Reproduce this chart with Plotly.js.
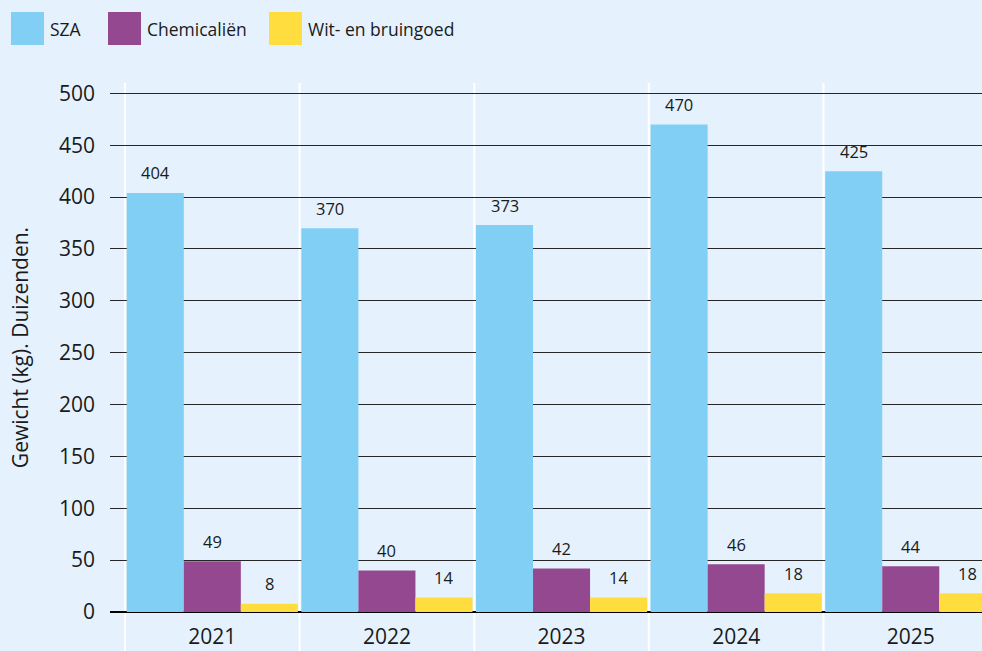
<!DOCTYPE html>
<html>
<head>
<meta charset="utf-8">
<script src="https://cdn.plot.ly/plotly-3.0.1.min.js"></script>
<style>html,body{margin:0;padding:0;background:#E5F2FD;}</style>
</head>
<body>
<div id="chart" style="width:982px;height:651px;"></div>
<script>
const years = ["2021", "2022", "2023", "2024", "2025"];
const seriesNames = ["SZA", "Chemicaliën", "Wit- en bruingoed"];
const sza = [404, 370, 373, 470, 425];
const chem = [49, 40, 42, 46, 44];
const wit = [8, 14, 14, 18, 18];
const colors = ["#81CFF4", "#944890", "#FFDD3F"];
const yTicks = [0, 50, 100, 150, 200, 250, 300, 350, 400, 450, 500];

const bg = "#E5F2FD";
const FONT = "Open Sans, sans-serif";
const bargap = 0.02;
const seriesVals = [sza, chem, wit];

const traces = seriesVals.map((vals, k) => ({
  type: "bar",
  x: years,
  y: vals,
  name: seriesNames[k],
  marker: {color: colors[k], line: {width: 0}},
  showlegend: false,
  hoverinfo: "x+y+name"
}));

const w = (1 - bargap) / 3;
const annotations = [];
seriesVals.forEach((vals, k) => {
  vals.forEach((v, i) => {
    annotations.push({
      x: i + (k - 1) * w, y: v, xref: "x", yref: "y",
      text: String(v), showarrow: false,
      yanchor: "middle", yshift: 20,
      font: {family: FONT, size: 16.5, color: "#1a1a1a"}
    });
  });
});

// Legend drawn manually (large square swatches)
const legendX = [11, 108, 269];
const shapes = [];
seriesNames.forEach((n, k) => {
  shapes.push({
    type: "rect", xref: "paper", yref: "paper",
    x0: (legendX[k] - 110) / 872, x1: (legendX[k] + 33 - 110) / 872,
    y0: (612 - 45) / 529, y1: (612 - 12) / 529,
    fillcolor: colors[k], line: {width: 0}, layer: "above"
  });
  annotations.push({
    xref: "paper", yref: "paper",
    x: (legendX[k] + 37 - 110) / 872, y: (612 - 29) / 529,
    xanchor: "left", yanchor: "middle", showarrow: false,
    text: n, font: {family: FONT, size: 17.5, color: "#1a1a1a"}
  });
});

// White separators at category boundaries
for (let i = 0; i <= years.length; i++) {
  shapes.push({
    type: "line", xref: "x", yref: "paper",
    x0: i - 0.5, x1: i - 0.5, y0: -39 / 529, y1: 1,
    line: {color: "#FFFFFF", width: 2}, layer: "below"
  });
}

const layout = {
  width: 982, height: 651,
  margin: {l: 110, r: 0, t: 83, b: 39, pad: 0},
  paper_bgcolor: bg, plot_bgcolor: bg,
  barmode: "group", bargap: bargap, bargroupgap: 0,
  font: {family: FONT, color: "#1a1a1a"},
  xaxis: {
    type: "category", range: [-0.586, 4.408],
    showgrid: false, zeroline: false, showline: false, ticks: "",
    tickfont: {family: FONT, size: 21, color: "#1a1a1a"},
    ticklabelstandoff: 10, fixedrange: true
  },
  yaxis: {
    range: [0, 510], tickvals: yTicks,
    showgrid: true, gridcolor: "#262626", gridwidth: 1,
    zeroline: true, zerolinecolor: "#000000", zerolinewidth: 1.5,
    showline: false, ticks: "",
    tickfont: {family: FONT, size: 21, color: "#1a1a1a"},
    ticklabelstandoff: 14,
    title: {text: "Gewicht (kg). Duizenden.", font: {family: FONT, size: 21, color: "#1a1a1a"}, standoff: 24},
    automargin: false, fixedrange: true
  },
  annotations: annotations,
  shapes: shapes
};

Plotly.newPlot("chart", traces, layout, {displayModeBar: false, staticPlot: true});
</script>
</body>
</html>
